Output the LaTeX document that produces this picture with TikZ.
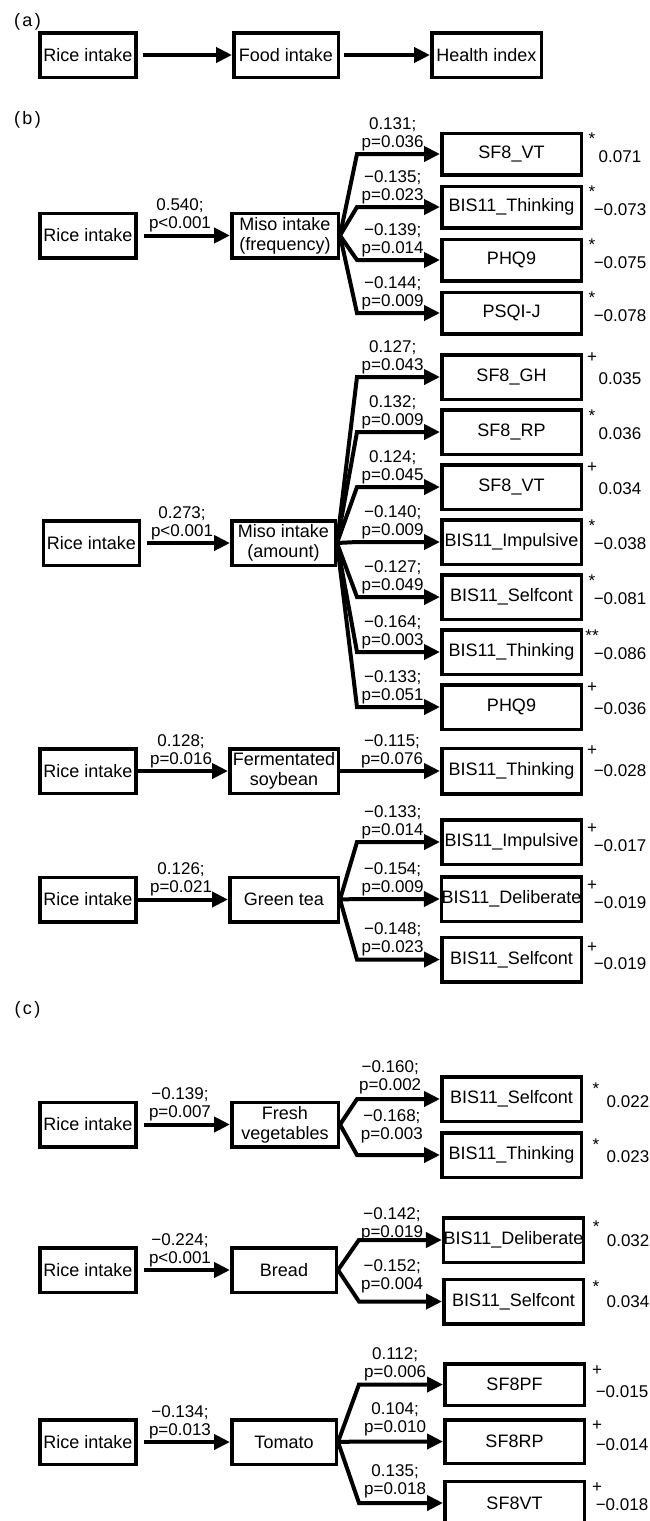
\documentclass[tikz,border=0pt]{standalone}
\usepackage{fontspec}
\setmainfont{Liberation Sans}
\usetikzlibrary{arrows.meta,calc}
\newcommand{\addsig}[7]{%
  \node[sigst] at ($(#1.north east)+(#4,#5)$) {#2};
  \node[valst] at ($(#1.east)+(#6,#7)$) {#3};}
\begin{document}
\begin{tikzpicture}[x=1pt,y=-1pt,
  every node/.style={font=\fontsize{17}{18}\selectfont, inner sep=0pt},
  box/.style={draw, line width=3.5pt, align=center, minimum height=44.5pt,
    font=\fontsize{18}{20}\selectfont},
  src/.style={box, minimum width=96pt},
  mid/.style={box, minimum width=106.5pt},
  tgt/.style={box, minimum width=139.5pt},
  arr/.style={line width=4pt, -{Triangle[length=16pt,width=15pt]}},
  lab/.style={align=center, anchor=south, yshift=1.3pt},
  sect/.style={font=\fontsize{18}{20}\selectfont},
  sigst/.style={},
  valst/.style={}]
\useasboundingbox (0,0) rectangle (650,1521);

% ---------- (a)
\node[sect] (la) at (27.5,22) {(\kern2.5pt a\kern2.5pt)};
\node[src] (ar) at (88,55) {Rice intake};
\node[box, minimum width=104.5pt] (af) at (286,55) {Food intake};
\node[box, minimum width=109.5pt] (ah) at (486.5,55) {Health index};
\draw[arr] ([xshift=5pt]ar.east) -- (af.west);
\draw[arr] ([xshift=4pt]af.east) -- (ah.west);

% ---------- (b)
\node[sect] (lb) at (27.5,120) {(\kern2.5pt b\kern2.5pt)};

% Miso frequency
\node[src] (r1) at (88,235.5) {Rice intake};
\node[mid] (m1) at (285,235.5) {Miso intake\\(frequency)};
\draw[arr] ([xshift=6pt]r1.east) -- node[lab,pos=.42]{0.540;\\p<0.001} (m1.west);
\node[tgt, minimum height=41.5pt] (f1) at (511.5,154) {SF8\_VT};
\node[tgt, minimum height=41.5pt] (f2) at (511.5,207) {BIS11\_Thinking};
\node[tgt, minimum height=41.5pt] (f3) at (511.5,260) {PHQ9};
\node[tgt, minimum height=41.5pt] (f4) at (511.5,313) {PSQI-J};
\draw[arr] (m1.east) -- ([xshift=-83pt]f1.west) -- node[lab,pos=.43]{0.131;\\p=0.036} (f1.west);
\draw[arr] (m1.east) -- ([xshift=-83pt]f2.west) -- node[lab,pos=.43]{−0.135;\\p=0.023} (f2.west);
\draw[arr] (m1.east) -- ([xshift=-83pt]f3.west) -- node[lab,pos=.43]{−0.139;\\p=0.014} (f3.west);
\draw[arr] (m1.east) -- ([xshift=-83pt]f4.west) -- node[lab,pos=.43]{−0.144;\\p=0.009} (f4.west);
\addsig{f1}{*}{0.071}{9}{7.6}{37}{3}
\addsig{f2}{*}{−0.073}{9}{7.6}{37}{3}
\addsig{f3}{*}{−0.075}{9}{7.6}{37}{3}
\addsig{f4}{*}{−0.078}{9}{7.6}{37}{3}

% Miso amount
\node[src] (r2) at (91.5,543) {Rice intake};
\node[mid, minimum width=103.5pt] (m2) at (283.5,543) {Miso intake\\(amount)};
\draw[arr] ([xshift=6pt]r2.east) -- node[lab,pos=.42]{0.273;\\p<0.001} (m2.west);
\node[tgt] (g1) at (511.5,377) {SF8\_GH};
\node[tgt] (g2) at (511.5,432) {SF8\_RP};
\node[tgt] (g3) at (511.5,487) {SF8\_VT};
\node[tgt] (g4) at (511.5,542) {BIS11\_Impulsive};
\node[tgt] (g5) at (511.5,597) {BIS11\_Selfcont};
\node[tgt] (g6) at (511.5,652) {BIS11\_Thinking};
\node[tgt] (g7) at (511.5,707) {PHQ9};
\draw[arr] (m2.east) -- ([xshift=-83pt]g1.west) -- node[lab,pos=.43]{0.127;\\p=0.043} (g1.west);
\draw[arr] (m2.east) -- ([xshift=-83pt]g2.west) -- node[lab,pos=.43]{0.132;\\p=0.009} (g2.west);
\draw[arr] (m2.east) -- ([xshift=-83pt]g3.west) -- node[lab,pos=.43]{0.124;\\p=0.045} (g3.west);
\draw[arr] (m2.east) -- ([xshift=-83pt]g4.west) -- node[lab,pos=.43]{−0.140;\\p=0.009} (g4.west);
\draw[arr] (m2.east) -- ([xshift=-83pt]g5.west) -- node[lab,pos=.43]{−0.127;\\p=0.049} (g5.west);
\draw[arr] (m2.east) -- ([xshift=-83pt]g6.west) -- node[lab,pos=.43]{−0.164;\\p=0.003} (g6.west);
\draw[arr] (m2.east) -- ([xshift=-83pt]g7.west) -- node[lab,pos=.43]{−0.133;\\p=0.051} (g7.west);
\addsig{g1}{+}{0.035}{9}{5}{37}{2}
\addsig{g2}{*}{0.036}{9}{7.6}{37}{2}
\addsig{g3}{+}{0.034}{9}{5}{37}{2}
\addsig{g4}{*}{−0.038}{9}{7.6}{37}{2}
\addsig{g5}{*}{−0.081}{9}{7.6}{37}{2}
\addsig{g6}{**}{−0.086}{9}{7.6}{37}{2}
\addsig{g7}{+}{−0.036}{9}{5}{37}{2}

% Fermentated soybean
\node[src] (r3) at (88,771) {Rice intake};
\node[mid, minimum width=108.5pt] (m3) at (284,771) {Fermentated\\soybean};
\draw[arr] (r3.east) -- node[lab,pos=.48]{0.128;\\p=0.016} (m3.west);
\node[tgt, minimum height=45.5pt] (h1) at (511.5,771) {BIS11\_Thinking};
\draw[arr] (m3.east) -- node[lab,pos=.52]{−0.115;\\p=0.076} (h1.west);
\addsig{h1}{+}{−0.028}{9}{4.5}{37}{0}

% Green tea
\node[src] (r4) at (88,899.5) {Rice intake};
\node[mid, minimum width=108.5pt] (m4) at (284,899.5) {Green tea};
\draw[arr] (r4.east) -- node[lab,pos=.48]{0.126;\\p=0.021} (m4.west);
\node[tgt] (k1) at (511.5,842) {BIS11\_Impulsive};
\node[tgt] (k2) at (511.5,899) {BIS11\_Deliberate};
\node[tgt] (k3) at (511.5,959.5) {BIS11\_Selfcont};
\draw[arr] (m4.east) -- ([xshift=-83pt]k1.west) -- node[lab,pos=.43]{−0.133;\\p=0.014} (k1.west);
\draw[arr] (m4.east) -- ([xshift=-83pt]k2.west) -- node[lab,pos=.43]{−0.154;\\p=0.009} (k2.west);
\draw[arr] (m4.east) -- ([xshift=-83pt]k3.west) -- node[lab,pos=.43]{−0.148;\\p=0.023} (k3.west);
\addsig{k1}{+}{−0.017}{9}{11}{37}{4}
\addsig{k2}{+}{−0.019}{9}{11}{37}{4}
\addsig{k3}{+}{−0.019}{9}{12.5}{37}{4}

% ---------- (c)
\node[sect] (lc) at (27.5,1010) {(\kern2.5pt c\kern2.5pt)};

% Fresh vegetables
\node[src] (r5) at (88,1124.5) {Rice intake};
\node[mid] (m5) at (285,1124.5) {Fresh\\vegetables};
\draw[arr] ([xshift=6pt]r5.east) -- node[lab,pos=.42]{−0.139;\\p=0.007} (m5.west);
\node[tgt] (n1) at (511.5,1099) {BIS11\_Selfcont};
\node[tgt] (n2) at (511.5,1155) {BIS11\_Thinking};
\draw[arr] (m5.east) -- ([xshift=-83pt]n1.west) -- node[lab,pos=.40,yshift=2pt]{−0.160;\\p=0.002} (n1.west);
\draw[arr] (m5.east) -- ([xshift=-83pt]n2.west) -- node[lab,pos=.42,yshift=9pt]{−0.168;\\p=0.003} (n2.west);
\addsig{n1}{*}{0.022}{13}{13.6}{45}{3}
\addsig{n2}{*}{0.023}{13}{13.6}{45}{2}

% Bread
\node[src] (r6) at (88,1270) {Rice intake};
\node[mid, minimum width=104.5pt] (m6) at (284,1270) {Bread};
\draw[arr] ([xshift=6pt]r6.east) -- node[lab,pos=.42]{−0.224;\\p<0.001} (m6.west);
\node[tgt] (q1) at (513.5,1240) {BIS11\_Deliberate};
\node[tgt] (q2) at (513.5,1301.5) {BIS11\_Selfcont};
\draw[arr] (m6.east) -- ([xshift=-83pt]q1.west) -- node[lab,pos=.40,yshift=-4pt]{−0.142;\\p=0.019} (q1.west);
\draw[arr] (m6.east) -- ([xshift=-83pt]q2.west) -- node[lab,pos=.40,yshift=5pt]{−0.152;\\p=0.004} (q2.west);
\addsig{q1}{*}{0.032}{11}{10.6}{43}{1}
\addsig{q2}{*}{0.034}{11}{9.1}{43}{0.5}

% Tomato
\node[src] (r7) at (88,1442) {Rice intake};
\node[mid, minimum width=104.5pt] (m7) at (284,1442) {Tomato};
\draw[arr] ([xshift=6pt]r7.east) -- node[lab,pos=.42]{−0.134;\\p=0.013} (m7.west);
\node[tgt, minimum height=41.5pt] (s1) at (514.5,1384.5) {SF8PF};
\node[tgt, minimum height=43.5pt] (s2) at (514.5,1441.5) {SF8RP};
\node[tgt, minimum height=43.5pt] (s3) at (514.5,1503) {SF8VT};
\draw[arr] (m7.east) -- ([xshift=-84pt]s1.west) -- node[lab,pos=.43]{0.112;\\p=0.006} (s1.west);
\draw[arr] (m7.east) -- ([xshift=-84pt]s2.west) -- node[lab,pos=.43,yshift=2pt]{0.104;\\p=0.010} (s2.west);
\draw[arr] (m7.east) -- ([xshift=-84pt]s3.west) -- node[lab,pos=.43,yshift=2pt]{0.135;\\p=0.018} (s3.west);
\addsig{s1}{+}{−0.015}{11}{9}{36}{7.5}
\addsig{s2}{+}{−0.014}{11}{8}{36}{3.5}
\addsig{s3}{+}{−0.018}{11}{8.5}{36}{2}
\end{tikzpicture}
\end{document}
